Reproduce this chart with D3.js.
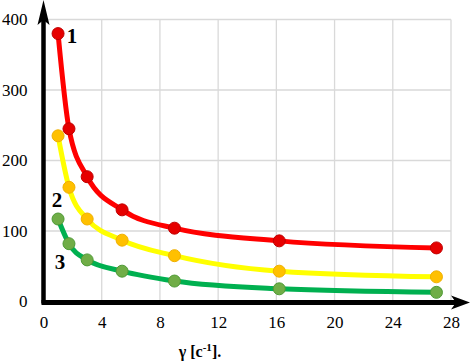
<!DOCTYPE html>
<html><head><meta charset="utf-8">
<script src="https://cdn.jsdelivr.net/npm/d3@7"></script>
<style>body{margin:0;background:#fff}svg{display:block}text{font-family:'Liberation Serif','Times New Roman',serif}</style>
</head><body>
<script>
const xValues = [1, 1.75, 3, 5.4, 9, 16.2, 27];
const series1 = [380, 245, 177, 130, 104, 86, 76];
const series2 = [235, 162, 117, 87, 65, 43, 35];
const series3 = [117, 82, 59, 43, 29, 18, 13];
const xTicks = [0, 4, 8, 12, 16, 20, 24, 28];
const yTicks = [0, 100, 200, 300, 400];
const seriesLabels = ["1", "2", "3"];
const xTitle = "γ [c";

const W = 472, H = 362;
const svg = d3.select("body").append("svg").attr("width", W).attr("height", H);
const x = d3.scaleLinear().domain([0, 28]).range([43.5, 451]);
const y = d3.scaleLinear().domain([0, 400]).range([301.5, 19.5]);
const font = "'Liberation Serif','Times New Roman',serif";

// grid
const grid = svg.append("g").attr("stroke", "#d9d9d9").attr("stroke-width", 1.3);
grid.selectAll(".h").data(yTicks.filter(d => d > 0)).join("line")
  .attr("x1", x(0)).attr("x2", x(28)).attr("y1", d => y(d)).attr("y2", d => y(d));
grid.selectAll(".v").data(xTicks.filter(d => d > 0)).join("line")
  .attr("y1", y(0)).attr("y2", y(400)).attr("x1", d => x(d)).attr("x2", d => x(d));

// tick labels via axes
const yAxis = svg.append("g").attr("transform", `translate(${x(0)},0)`)
  .call(d3.axisLeft(y).tickValues(yTicks).tickSize(0).tickPadding(16));
const xAxis = svg.append("g").attr("transform", `translate(0,${y(0)})`)
  .call(d3.axisBottom(x).tickValues(xTicks).tickSize(0).tickPadding(14));
[yAxis, xAxis].forEach(a => {
  a.attr("font-family", null).attr("font-size", null);
  a.select(".domain").remove();
  a.selectAll("text").style("font-family", font).style("font-size", "17px").attr("fill", "#000");
});

// curves
const colors = [
  {line: "#ff0000", dot: "#e60000", stroke: "#c00000"},
  {line: "#ffff00", dot: "#ffc000", stroke: "#f0b000"},
  {line: "#00b050", dot: "#70ad47", stroke: "#4e9a35"}
];
const all = [series1, series2, series3];
const lineGen = d3.line().x(d => x(d[0])).y(d => y(d[1])).curve(d3.curveMonotoneX);
all.forEach((s, i) => {
  const pts = xValues.map((xv, j) => [xv, s[j]]);
  svg.append("path").datum(pts).attr("d", lineGen).attr("fill", "none")
    .attr("stroke", colors[i].line).attr("stroke-width", 5).attr("stroke-linejoin", "round");
});
all.forEach((s, i) => {
  const pts = xValues.map((xv, j) => [xv, s[j]]);
  svg.append("g").selectAll("circle").data(pts).join("circle")
    .attr("cx", d => x(d[0])).attr("cy", d => y(d[1])).attr("r", 6)
    .attr("fill", colors[i].dot).attr("stroke", colors[i].stroke).attr("stroke-width", 1);
});

// axes lines with arrows
svg.append("line").attr("x1", x(0)).attr("x2", x(0)).attr("y1", y(0) + 2).attr("y2", 18)
  .attr("stroke", "#000").attr("stroke-width", 4.5);
svg.append("path").attr("d", `M${x(0)},0 L${x(0) - 6},25 L${x(0)},20 L${x(0) + 6},25 Z`).attr("fill", "#000");
svg.append("line").attr("x1", x(0) - 2).attr("x2", 456).attr("y1", y(0) + 1).attr("y2", y(0) + 1)
  .attr("stroke", "#000").attr("stroke-width", 5);
svg.append("path").attr("d", `M470,${y(0) + 1} L451,${y(0) - 6} L456,${y(0) + 1} L451,${y(0) + 8} Z`).attr("fill", "#000");

// series labels
const labPos = [[72, 36], [57, 200], [60, 262]];
seriesLabels.forEach((t, i) => {
  svg.append("text").attr("x", labPos[i][0]).attr("y", labPos[i][1]).attr("dy", "0.35em")
    .attr("text-anchor", "middle").style("font-family", font).attr("font-weight", "bold")
    .attr("font-size", 21).text(t);
});

// x title
const tt = svg.append("text").attr("x", 200).attr("y", 357).attr("text-anchor", "middle")
  .style("font-family", font).attr("font-weight", "bold").attr("font-size", 16);
tt.append("tspan").text(xTitle);
tt.append("tspan").attr("dy", -6).attr("font-size", 11).text("-1");
tt.append("tspan").attr("dy", 6).text("].");
</script>
</body></html>
